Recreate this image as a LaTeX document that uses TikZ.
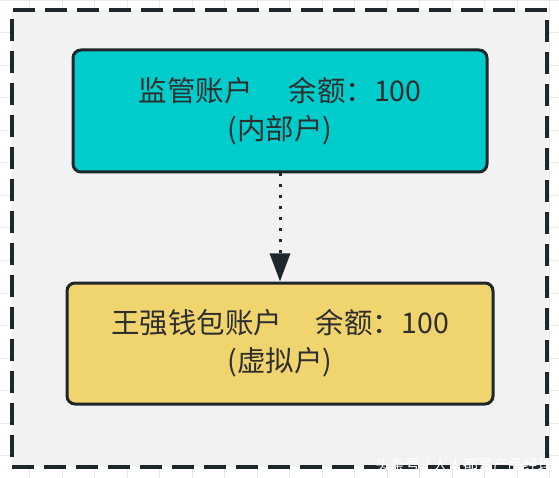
\documentclass[tikz,border=0pt]{standalone}
\usepackage{fontspec}
\setmainfont{Noto Sans CJK SC}
\usetikzlibrary{arrows.meta}
\definecolor{tealbox}{HTML}{00CCCC}
\definecolor{yelbox}{HTML}{F0D46E}
\definecolor{bgc}{HTML}{F2F2F2}
\definecolor{ink}{HTML}{1E272B}
\definecolor{txt}{HTML}{2E2E2E}
\definecolor{gridc}{HTML}{E8E8E8}
\begin{document}
\begin{tikzpicture}[x=1pt,y=-1pt,
  gridline/.style={draw=gridc, line width=1pt},
  frame/.style={draw=ink, fill=bgc, line width=4pt, dash pattern=on 22pt off 10pt, inner sep=0pt},
  acct/.style={draw=ink, line width=3pt, rounded corners=8pt, text=txt, align=center,
    font=\fontsize{28.5}{38}\selectfont, inner sep=0pt},
  flow/.style={draw=ink, line width=3pt, dash pattern=on 3pt off 8pt,
    -{Triangle[length=28pt,width=20pt]}},
  wmark/.style={text=white, font=\fontsize{15}{15}\selectfont, inner sep=0pt}]
\useasboundingbox (0,0) rectangle (559,478);
\fill[white] (0,0) rectangle (559,478);
\foreach \i in {0,...,16} {\draw[gridline] ({29.5+32.5*\i},0) -- ++(0,478);}
\foreach \j in {0,...,14} {\draw[gridline] (0,{0.5+32.5*\j}) -- ++(559,0);}
\node[frame, minimum width=535pt, minimum height=457pt] (outer) at (279.5,238.5) {};
\node[acct, fill=tealbox, minimum width=414pt, minimum height=122pt] (top) at (280,111)
  {\raisebox{-3pt}{监管账户\hspace{36pt}余额：100}\\\raisebox{-3pt}{(内部户)}};
\node[acct, fill=yelbox, minimum width=426pt, minimum height=121pt] (bot) at (280,343.5)
  {\raisebox{-1pt}{王强钱包账户\hspace{34pt}余额：100}\\\raisebox{-1pt}{(虚拟户)}};
\draw[flow] (top.south) -- (bot.north);
\node[wmark, anchor=east] (wm) at (553,466) {头条号 / 人人都是产品经理};
\end{tikzpicture}
\end{document}
